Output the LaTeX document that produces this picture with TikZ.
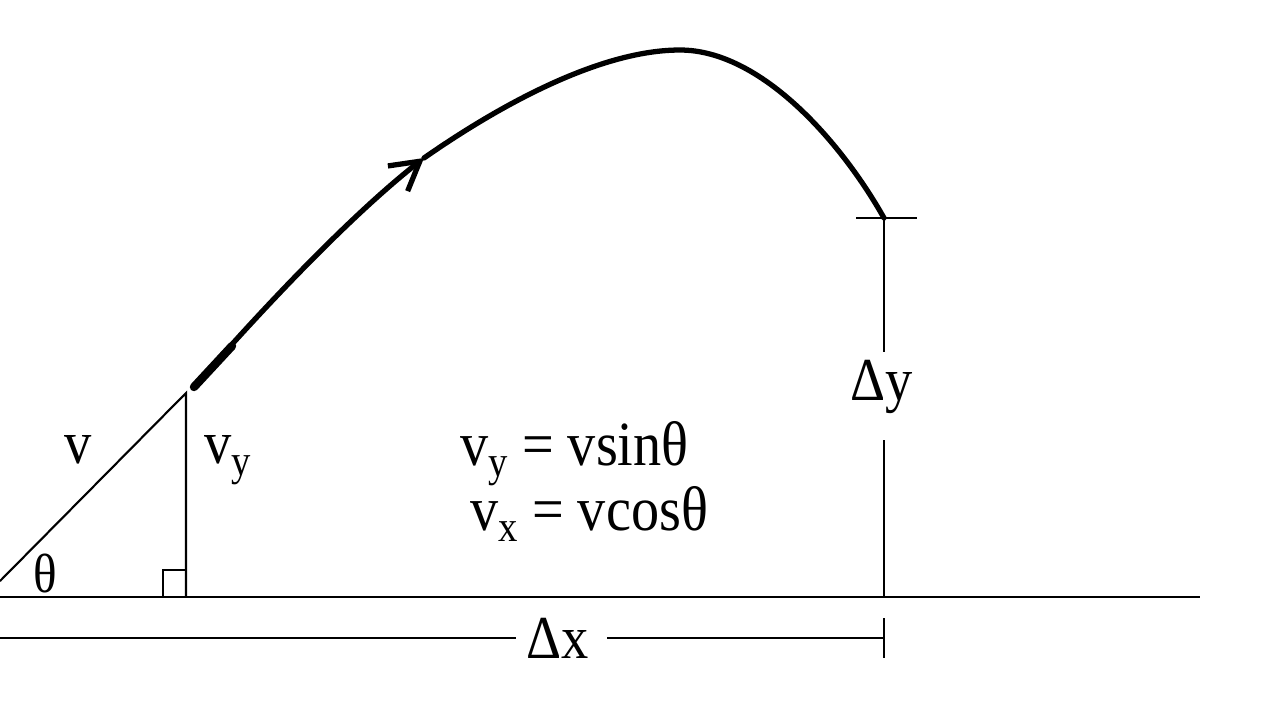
\documentclass[tikz,border=0pt]{standalone}
\usepackage{fontspec}
\setmainfont{Liberation Serif}
\usepackage{graphicx}
\usetikzlibrary{arrows.meta}
\newcommand{\sbs}[1]{\raisebox{-0.18em}{\fontsize{11}{11}\selectfont #1}}
\newcommand{\tall}[1]{\scalebox{1}[1.12]{#1}}
\begin{document}
\begin{tikzpicture}[x=0.1mm,y=-0.1mm,
  thinline/.style={line width=0.6pt},
  traj/.style={line width=1.5pt, line cap=round},
  lbl/.style={inner sep=0pt, anchor=base west, font=\fontsize{15.5}{15.5}\selectfont},
  eqn/.style={inner sep=0pt, anchor=base west, font=\fontsize{16}{16}\selectfont}]
\useasboundingbox (0,0) rectangle (1280,720);
% coordinates
\coordinate (G0) at (0,597);
\coordinate (G1) at (1200,597);
\coordinate (O) at (0,581);
\coordinate (T) at (186,393);
\coordinate (F) at (186,597);
\coordinate (RA1) at (163,597);
\coordinate (RA2) at (186,570);
\coordinate (S) at (194,387);
\coordinate (S2) at (232,346);
\coordinate (A) at (424,158);
\coordinate (P) at (680,50);
\coordinate (E) at (884,218);
\coordinate (TL) at (856,218);
\coordinate (TR) at (917,218);
\coordinate (DY1) at (884,352);
\coordinate (DY2) at (884,440);
\coordinate (DYB) at (884,597);
\coordinate (X0) at (0,638);
\coordinate (X1) at (516,638);
\coordinate (X2) at (607,638);
\coordinate (X3) at (884,638);
\coordinate (XT1) at (884,618);
\coordinate (XT2) at (884,658);
% ground and triangle
\draw[thinline] (G0) -- (G1);
\draw[thinline] (O) -- (T) -- (F);
\draw[thinline] (RA1) |- (RA2);
% trajectory
\draw[traj,-{Straight Barb[length=2.8mm,width=3.2mm]}] (S) .. controls (270,300) and (355,212) .. (A);
\draw[traj] (A) .. controls (500,105) and (600,50) .. (P) .. controls (760,50) and (840,140) .. (E);
\draw[line width=2.4pt, line cap=round] (S) -- (S2);
% delta y
\draw[thinline] (TL) -- (TR);
\draw[thinline] (E) -- (DY1);
\draw[thinline] (DY2) -- (DYB);
\node[lbl] (dy) at (850,400) {\tall{Δy}};
% delta x
\draw[thinline] (X0) -- (X1);
\draw[thinline] (X2) -- (X3);
\draw[thinline] (XT1) -- (XT2);
\node[lbl] (dx) at (526,658) {\tall{Δx}};
% labels
\node[lbl] (v) at (64,463) {\tall{v}};
\node[lbl] (vy) at (204,463) {\tall{v\raisebox{-0.2em}{\fontsize{11}{11}\selectfont y}}};
\node[lbl, font=\fontsize{14}{14}\selectfont] (th) at (33,592) {\tall{θ}};
\node[eqn] (eq1) at (460,465) {\tall{v\sbs{y} = vsinθ}};
\node[eqn] (eq2) at (470,530) {\tall{v\sbs{x} = vcosθ}};
\end{tikzpicture}
\end{document}
